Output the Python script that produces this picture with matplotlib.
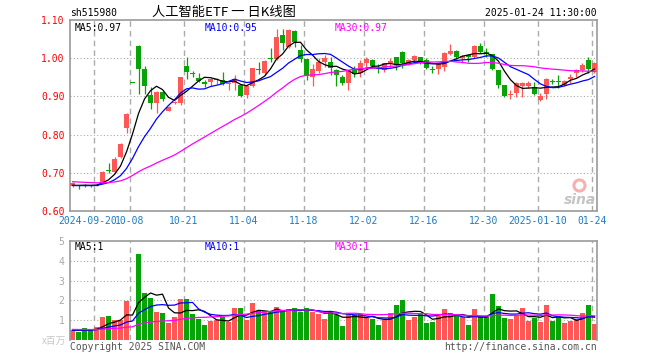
import numpy as np
import pandas as pd
import matplotlib
matplotlib.use('Agg')
import matplotlib.pyplot as plt

plt.rcParams['font.family'] = ['DejaVu Sans Mono', 'Noto Sans CJK SC']

# 人工智能ETF daily k-line, 2024-09-12 .. 2025-01-24 (88 sessions)
opens = [0.666, 0.667, 0.668, 0.667, 0.666, 0.675, 0.707, 0.703, 0.742, 0.816,
         0.937, 1.032, 0.973, 0.904, 0.882, 0.912, 0.863, 0.883, 0.884, 0.980,
         0.962, 0.948, 0.936, 0.938, 0.943, 0.943, 0.932, 0.935, 0.930, 0.904,
         0.928, 0.972, 0.960, 1.000, 0.997, 1.061, 1.030, 1.070, 1.022, 0.997,
         0.950, 0.966, 0.990, 0.991, 0.968, 0.951, 0.934, 0.969, 0.960, 0.987,
         0.995, 0.975, 0.970, 0.988, 1.002, 1.015, 0.985, 0.995, 1.002, 0.994,
         0.972, 0.971, 0.978, 1.011, 1.020, 1.000, 1.008, 1.002, 1.032, 1.015,
         1.010, 0.969, 0.930, 0.905, 0.908, 0.926, 0.926, 0.924, 0.890, 0.906,
         0.940, 0.940, 0.930, 0.946, 0.960, 0.970, 0.995, 0.965]
highs = [0.676, 0.668, 0.670, 0.668, 0.671, 0.705, 0.725, 0.741, 0.777, 0.856,
         0.937, 1.035, 0.980, 0.925, 0.915, 0.915, 0.875, 0.888, 0.952, 1.002,
         0.967, 0.960, 0.943, 0.947, 0.947, 0.965, 0.939, 0.956, 0.933, 0.930,
         0.975, 0.990, 0.996, 1.028, 1.076, 1.076, 1.076, 1.074, 1.035, 0.999,
         0.984, 1.000, 1.008, 1.004, 0.972, 0.956, 0.970, 0.980, 0.995, 1.002,
         0.998, 0.985, 0.988, 1.001, 1.004, 1.020, 0.998, 1.008, 1.004, 1.000,
         0.980, 0.987, 1.016, 1.037, 1.022, 1.008, 1.012, 1.035, 1.041, 1.026,
         1.012, 0.970, 0.931, 0.918, 0.937, 0.939, 0.940, 0.939, 0.910, 0.947,
         0.945, 0.956, 0.943, 0.959, 0.973, 0.988, 1.002, 0.990]
lows = [0.664, 0.657, 0.664, 0.663, 0.665, 0.672, 0.700, 0.700, 0.739, 0.805,
        0.937, 0.906, 0.906, 0.866, 0.857, 0.889, 0.861, 0.879, 0.878, 0.945,
        0.952, 0.938, 0.925, 0.926, 0.933, 0.930, 0.917, 0.917, 0.899, 0.897,
        0.925, 0.958, 0.956, 0.991, 0.995, 1.021, 1.028, 1.030, 0.991, 0.943,
        0.926, 0.960, 0.978, 0.956, 0.926, 0.930, 0.917, 0.952, 0.952, 0.978,
        0.975, 0.962, 0.965, 0.978, 0.969, 0.975, 0.982, 0.993, 0.985, 0.972,
        0.960, 0.958, 0.967, 1.008, 0.998, 0.987, 0.991, 1.000, 1.013, 1.003,
        0.969, 0.921, 0.898, 0.893, 0.898, 0.898, 0.921, 0.904, 0.888, 0.893,
        0.933, 0.921, 0.926, 0.936, 0.950, 0.963, 0.960, 0.960]
closes = [0.674, 0.665, 0.666, 0.665, 0.669, 0.703, 0.705, 0.737, 0.775, 0.854,
          0.937, 0.973, 0.927, 0.884, 0.912, 0.893, 0.872, 0.886, 0.950, 0.965,
          0.960, 0.941, 0.934, 0.945, 0.945, 0.933, 0.934, 0.945, 0.901, 0.926,
          0.974, 0.970, 0.993, 0.997, 1.055, 1.039, 1.073, 1.043, 0.999, 0.954,
          0.972, 0.990, 1.001, 0.975, 0.956, 0.935, 0.969, 0.959, 0.987, 0.998,
          0.980, 0.973, 0.987, 0.993, 0.982, 0.987, 0.995, 1.005, 0.987, 0.974,
          0.970, 0.986, 1.014, 1.020, 1.002, 1.005, 1.002, 1.032, 1.017, 1.011,
          0.971, 0.930, 0.901, 0.906, 0.934, 0.934, 0.934, 0.906, 0.900, 0.945,
          0.938, 0.938, 0.941, 0.950, 0.969, 0.982, 0.971, 0.987]
# volume, x百万
volumes = [0.53, 0.42, 0.62, 0.48, 0.65, 1.15, 1.22, 1.02, 1.00, 1.95,
           1.10, 4.35, 2.37, 2.10, 1.40, 1.35, 0.87, 1.15, 2.05, 2.05,
           1.30, 1.08, 0.75, 0.97, 1.00, 1.15, 0.92, 1.60, 1.60, 1.00,
           1.85, 1.45, 1.45, 1.40, 1.65, 1.45, 1.55, 1.60, 1.40, 1.60,
           1.40, 1.30, 1.05, 1.45, 1.25, 0.70, 1.30, 1.25, 1.30, 1.10,
           1.05, 0.75, 1.00, 1.35, 1.75, 2.00, 1.00, 1.15, 1.30, 0.87,
           0.92, 1.20, 1.55, 1.35, 1.20, 1.15, 0.75, 1.55, 1.15, 1.15,
           2.30, 1.70, 1.10, 1.05, 1.20, 1.60, 0.95, 1.10, 0.90, 1.75,
           0.95, 1.15, 0.85, 0.95, 1.05, 1.35, 1.75, 0.80]

# sessions before the window, only feed the moving averages
hist_close = [0.690, 0.688, 0.686, 0.689, 0.692, 0.694, 0.691, 0.688, 0.685, 0.683,
              0.682, 0.680, 0.679, 0.677, 0.676, 0.674, 0.672, 0.671, 0.669, 0.668,
              0.667, 0.666, 0.665, 0.666, 0.667, 0.665, 0.664, 0.666, 0.667]
hist_vol = [0.60, 0.58, 0.55, 0.62, 0.57, 0.53, 0.56, 0.60, 0.54, 0.52,
            0.58, 0.55, 0.51, 0.56, 0.53, 0.57, 0.54, 0.50, 0.55, 0.52,
            0.48, 0.53, 0.50, 0.47, 0.52, 0.49, 0.51, 0.46, 0.50]

tick_idx = [4, 10, 19, 29, 39, 49, 59, 69, 78, 87]
tick_labels = ['2024-09-20', '10-08', '10-21', '11-04', '11-18',
               '12-02', '12-16', '12-30', '2025-01-10', '01-24']

RED = '#ff5656'
GREEN = '#06a406'
GRID = '#ababab'
SPINE = '#9a9a9a'


def ma(hist, vals, n):
    s = pd.Series(hist + vals).rolling(n).mean()
    return s.iloc[len(hist):].values


o = np.array(opens)
h = np.array(highs)
l = np.array(lows)
c = np.array(closes)
v = np.array(volumes)
x = np.arange(len(c))
cols = np.where(c > o, RED, GREEN)

W, H = 660, 360
fig = plt.figure(figsize=(6.6, 3.6), dpi=100)
ax1 = fig.add_axes([70 / W, 1 - 211 / H, 527 / W, 191 / H])
ax2 = fig.add_axes([70 / W, 1 - 340 / H, 527 / W, 99 / H])

xlim = (-0.42, 87.42)
grid_x = [i - 0.42 for i in tick_idx]

# ---- price panel
for g in grid_x:
    ax1.axvline(g, color=GRID, lw=1, ls=(0, (4, 3)), zorder=0)
for yv in [0.7, 0.8, 0.9, 1.0]:
    ax1.axhline(yv, color=GRID, lw=0.8, ls=(0, (1, 2)), zorder=0)

ax1.vlines(x, l, h, color=cols, lw=0.9, zorder=2)
body = np.abs(c - o)
bh = np.maximum(body, 0.0028)
bottom = np.where(body < 0.0028, (o + c) / 2 - 0.0014, np.minimum(o, c))
ax1.bar(x, bh, bottom=bottom, width=0.82, color=cols, linewidth=0, zorder=3)

ma5 = ma(hist_close, closes, 5)
ma10 = ma(hist_close, closes, 10)
ma30 = ma(hist_close, closes, 30)
ax1.plot(x, ma5, color='black', lw=0.9, zorder=4)
ax1.plot(x, ma10, color='#0000ff', lw=0.9, zorder=4)
ax1.plot(x, ma30, color='#ff00ff', lw=0.9, zorder=4)

ax1.set_xlim(*xlim)
ax1.set_ylim(0.60, 1.10)
ax1.set_yticks([0.6, 0.7, 0.8, 0.9, 1.0, 1.1])
ax1.set_yticklabels(['%.2f' % t for t in [0.6, 0.7, 0.8, 0.9, 1.0, 1.1]],
                    color='#ff0000', fontsize=7)
ax1.set_xticks([])
ax1.tick_params(length=0, pad=4)
for sp in ax1.spines.values():
    sp.set_color(SPINE)
    sp.set_linewidth(1.2)

# date labels under the dashed lines (the first one sits a little to the left)
xt = ax1.get_xaxis_transform()
for i, (g, lab) in enumerate(zip(grid_x, tick_labels)):
    gx = g - 1.0 if i == 0 else g
    ax1.text(gx, -0.025, lab, transform=xt, ha='center', va='top',
             fontsize=7, color='#1a7cc8')

ax1.text(0.008, 0.985, 'MA5:%.2f' % ma5[-1], transform=ax1.transAxes,
         fontsize=7, color='black', va='top')
ax1.text(0.256, 0.985, 'MA10:%.2f' % ma10[-1], transform=ax1.transAxes,
         fontsize=7, color='#0000ff', va='top')
ax1.text(0.503, 0.985, 'MA30:%.2f' % ma30[-1], transform=ax1.transAxes,
         fontsize=7, color='#ff00ff', va='top')
# sina watermark
ax1.plot([0.965], [0.135], transform=ax1.transAxes, marker='o', ms=8,
         mfc='none', mec='#f6b0b0', mew=2.2, zorder=1)
ax1.text(0.998, 0.02, 'sina', transform=ax1.transAxes, fontsize=10,
         color='#c4c4c4', ha='right', va='bottom', style='italic',
         fontweight='bold', family='DejaVu Sans', zorder=1)

# ---- volume panel
for g in grid_x:
    ax2.axvline(g, color=GRID, lw=1, ls=(0, (4, 3)), zorder=0)
for yv in [1, 2, 3, 4]:
    ax2.axhline(yv, color=GRID, lw=0.8, ls=(0, (1, 2)), zorder=0)

# one-price sessions (high == low) show no volume bar in the original
drawn = h > l
ax2.bar(x[drawn], v[drawn], width=0.82, color=cols[drawn], linewidth=0, zorder=2)
vma5 = ma(hist_vol, volumes, 5)
vma10 = ma(hist_vol, volumes, 10)
vma30 = ma(hist_vol, volumes, 30)
ax2.plot(x, vma5, color='black', lw=0.9, zorder=4)
ax2.plot(x, vma10, color='#0000ff', lw=0.9, zorder=4)
ax2.plot(x, vma30, color='#ff00ff', lw=0.9, zorder=4)

ax2.set_xlim(*xlim)
ax2.set_ylim(0, 5)
ax2.set_yticks([1, 2, 3, 4, 5])
ax2.set_yticklabels(['1', '2', '3', '4', '5'], color='#a8a8a8', fontsize=7)
ax2.set_xticks([])
ax2.tick_params(length=0, pad=4)
for sp in ax2.spines.values():
    sp.set_color(SPINE)
    sp.set_linewidth(1.2)
ax2.spines['bottom'].set_visible(False)

ax2.text(0.008, 0.99, 'MA5:%.0f' % vma5[-1], transform=ax2.transAxes,
         fontsize=7, color='black', va='top')
ax2.text(0.256, 0.99, 'MA10:%.0f' % vma10[-1], transform=ax2.transAxes,
         fontsize=7, color='#0000ff', va='top')
ax2.text(0.503, 0.99, 'MA30:%.0f' % vma30[-1], transform=ax2.transAxes,
         fontsize=7, color='#ff00ff', va='top')

# ---- header / footer texts
fig.text(70 / W, 1 - 13 / H, 'sh515980', fontsize=7, va='center', ha='left')
fig.text(224 / W, 1 - 12 / H, '人工智能ETF 一 日K线图', fontsize=9.5,
         va='center', ha='center', family=['Noto Sans CJK SC', 'DejaVu Sans'])
fig.text(597 / W, 1 - 13 / H, '2025-01-24 11:30:00', fontsize=7,
         va='center', ha='right')
fig.text(66 / W, 1 - 341 / H, 'x百万', fontsize=7, color='#c8c8c8',
         va='center', ha='right', family=['Noto Sans CJK SC', 'DejaVu Sans'])
fig.text(70 / W, 1 - 347 / H, 'Copyright 2025 SINA.COM', fontsize=7,
         color='#555555', va='center', ha='left')
fig.text(597 / W, 1 - 347 / H, 'http://finance.sina.com.cn', fontsize=7,
         color='#555555', va='center', ha='right')

fig.savefig('out.png', dpi=100)
